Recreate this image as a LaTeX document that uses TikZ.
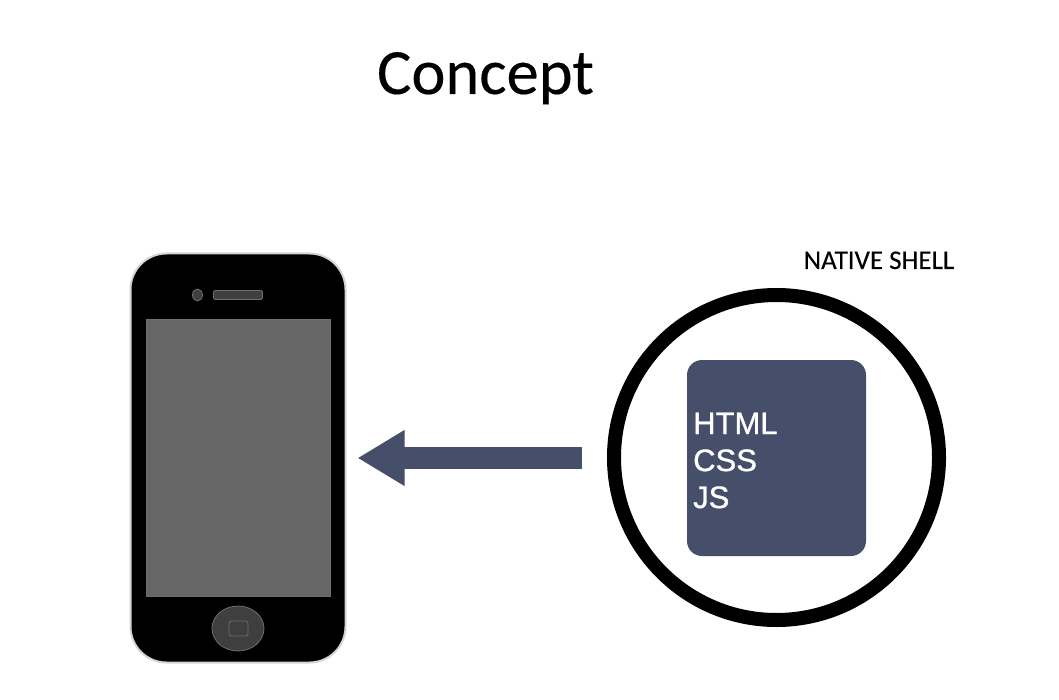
\documentclass[tikz,border=0pt]{standalone}
\usepackage{fontspec}
\setmainfont{Carlito}
\newfontfamily\titlefont[FakeBold=0.25]{Carlito}
\newfontfamily\labelfont[FakeBold=0.2]{Carlito}
\newfontfamily\arialfont[FakeBold=1]{Liberation Sans}
\usetikzlibrary{arrows.meta,shapes.geometric}
\definecolor{slateblue}{HTML}{464F69}
\definecolor{screengray}{HTML}{666666}
\definecolor{phonerim}{HTML}{D4D4D4}
\definecolor{partgray}{HTML}{3F3F3F}
\definecolor{partline}{HTML}{6E6E6E}
\tikzset{
  px/.style={inner sep=0pt,outer sep=0pt,minimum width=#1},
  phonebody/.style={px=215pt,minimum height=409pt,rounded corners=36pt,fill=black,draw=phonerim,line width=2pt},
  phonescreen/.style={px=184pt,minimum height=277pt,fill=screengray,draw=partline,line width=0.6pt},
  phonepart/.style={fill=partgray,draw=partline,line width=0.8pt},
  shellring/.style={circle,draw=black,line width=14pt,minimum size=325pt,inner sep=0pt,outer sep=0pt},
  webbox/.style={px=179pt,minimum height=196pt,rounded corners=15pt,fill=slateblue},
  webtext/.style={font=\arialfont\fontsize{31}{37}\selectfont,text=white,align=left,inner sep=0pt,anchor=north west},
  flow/.style={draw=slateblue,line width=22pt,-{Triangle[length=47pt,width=52.5pt]}}
}
\begin{document}
\begin{tikzpicture}[x=1pt,y=-1pt]
\useasboundingbox (0,0) rectangle (1059,700);
\node[font=\titlefont\fontsize{64.5}{70}\selectfont,anchor=base] (title) at (485.5,94) {Concept};
\node[phonebody] (phone) at (238,458) {};
\node[phonescreen] (screen) at (238.5,458) {};
\node[phonepart,ellipse,minimum width=10pt,minimum height=12pt,inner sep=0pt] (camera) at (197.5,295) {};
\node[phonepart,minimum width=49pt,minimum height=9pt,inner sep=0pt,rounded corners=1.5pt] (speaker) at (238,295) {};
\node[phonepart,ellipse,minimum width=52pt,minimum height=45pt,inner sep=0pt] (home) at (238,628.5) {};
\node[phonepart,minimum width=19pt,minimum height=15pt,inner sep=0pt,rounded corners=2.5pt,draw=partline,fill=none] (homekey) at (238.5,628.5) {};
\node[shellring] (shell) at (776.5,457.5) {};
\node[webbox] (web) at (776.5,458) {};
\node[webtext] (webstack) at (693,412.5) {HTML\\CSS\\JS};
\node[font=\labelfont\fontsize{27}{30}\selectfont,anchor=base] (shelllabel) at (879,269) {NATIVE SHELL};
\coordinate (flowstart) at (582,458);
\coordinate (flowend) at (357.5,458);
\draw[flow] (flowstart) -- (flowend);
\end{tikzpicture}
\end{document}
